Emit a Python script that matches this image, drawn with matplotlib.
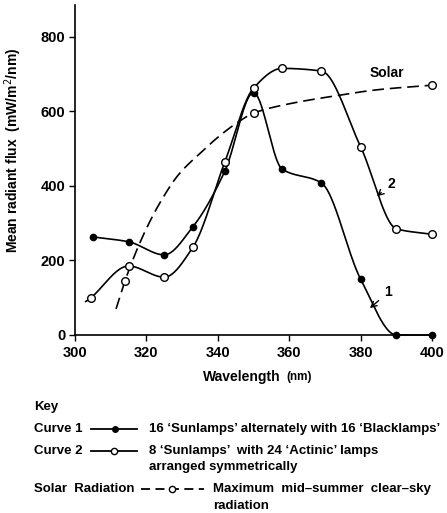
import numpy as np
import matplotlib
matplotlib.use("Agg")
import matplotlib.pyplot as plt
from matplotlib.lines import Line2D

plt.rcParams['font.family'] = ['Liberation Sans', 'DejaVu Sans']

# ---- data ----
curve1_wl = [305, 315, 325, 333, 342, 350, 358, 369, 380, 390, 400]
curve1_val = [263, 250, 215, 290, 440, 650, 445, 408, 150, 0, 0]

curve2_wl = [304.5, 315, 325, 333, 342, 350, 358, 369, 380, 390, 400]
curve2_val = [100, 185, 155, 235, 465, 662, 715, 708, 505, 285, 270]
curve2_line_start = 303

solar_wl = [311.5, 314, 319, 324, 329, 335, 341, 346, 350, 360, 372, 385, 400]
solar_val = [70, 145, 265, 358, 430, 487, 538, 573, 595, 620, 640, 658, 670]
solar_marked = [314, 350, 400]

x_ticks = [300, 320, 340, 360, 380, 400]
y_ticks = [0, 200, 400, 600, 800]


def pchip(x, y, xs):
    x = np.asarray(x, float); y = np.asarray(y, float)
    h = np.diff(x); d = np.diff(y) / h
    n = len(x); m = np.zeros(n)
    for k in range(1, n - 1):
        if d[k - 1] * d[k] > 0:
            w1 = 2 * h[k] + h[k - 1]; w2 = h[k] + 2 * h[k - 1]
            m[k] = (w1 + w2) / (w1 / d[k - 1] + w2 / d[k])
    m[0] = d[0]; m[-1] = d[-1]
    out = np.empty_like(xs)
    for i, xv in enumerate(xs):
        k = min(max(np.searchsorted(x, xv) - 1, 0), n - 2)
        t = (xv - x[k]) / h[k]
        h00 = 2*t**3 - 3*t**2 + 1; h10 = t**3 - 2*t**2 + t
        h01 = -2*t**3 + 3*t**2; h11 = t**3 - t**2
        out[i] = h00*y[k] + h10*h[k]*m[k] + h01*y[k+1] + h11*h[k]*m[k+1]
    return out


W, H = 447, 513
fig = plt.figure(figsize=(W/100, H/100), dpi=100)
ax = fig.add_axes([75/W, 1 - 335/H, (432 - 75)/W, (335 - 5)/H])
ax.set_xlim(300, 400)
ax.set_ylim(0, 885)

lw = 1.2
# curve 1
xs = np.linspace(curve1_wl[0], curve1_wl[-1], 400)
ax.plot(xs, pchip(curve1_wl, curve1_val, xs), color='black', lw=lw, clip_on=False)
ax.plot(curve1_wl, curve1_val, 'o', color='black', ms=4.5, clip_on=False, zorder=5)
# curve 2
xs = np.linspace(curve2_line_start, curve2_wl[-1], 400)
ax.plot(xs, pchip(curve2_wl, curve2_val, xs), color='black', lw=lw, clip_on=False)
ax.plot(curve2_wl, curve2_val, 'o', mfc='white', mec='black', mew=1.0, ms=5.5, clip_on=False, zorder=5)
# solar
xs = np.linspace(solar_wl[0], solar_wl[-1], 400)
ax.plot(xs, pchip(solar_wl, solar_val, xs), color='black', lw=lw, ls=(0, (7, 3.5)), clip_on=False)
sm_val = [solar_val[solar_wl.index(w)] for w in solar_marked]
ax.plot(solar_marked, sm_val, 'o', mfc='white', mec='black', mew=1.0, ms=5.5, clip_on=False, zorder=5)

# annotations
ax.text(387.3, 703, 'Solar', fontsize=10, fontweight='bold', ha='center', va='center')
ax.annotate('2', xy=(384.6, 372), xytext=(388.5, 405), fontsize=10, fontweight='bold',
            ha='center', va='center',
            arrowprops=dict(arrowstyle='->', lw=1.0, color='black', shrinkA=3, shrinkB=0))
ax.annotate('1', xy=(382.6, 72), xytext=(387.8, 115), fontsize=10, fontweight='bold',
            ha='center', va='center',
            arrowprops=dict(arrowstyle='->', lw=1.0, color='black', shrinkA=3, shrinkB=0))

for s in ['top', 'right']:
    ax.spines[s].set_visible(False)
ax.spines['left'].set_linewidth(1.2)
ax.spines['bottom'].set_linewidth(1.2)
ax.set_xticks(x_ticks)
ax.set_yticks(y_ticks)
ax.tick_params(axis='both', direction='out', length=4, width=1.0, labelsize=10.5, pad=3)
for lab in ax.get_xticklabels() + ax.get_yticklabels():
    lab.set_fontweight('bold')
ax.xaxis.set_tick_params(pad=4)

# axis labels
fig.text(13/W, 1 - 150/H, 'Mean radiant flux  (mW/m$^2$/nm)', rotation=90,
         ha='center', va='center', fontsize=10, fontweight='bold')
fig.text(242/W, 1 - 377/H, 'Wavelength', ha='center', va='center', fontsize=10, fontweight='bold')
fig.text(299/W, 1 - 377/H, '(nm)', ha='center', va='center', fontsize=8.5, fontweight='bold')

# key
fk = dict(fontsize=9.5, fontweight='bold', va='center', ha='left')
def fx(x): return x / W
def fy(y): return 1 - y / H

fig.text(fx(34), fy(407), 'Key', **fk)
fig.text(fx(34), fy(429), 'Curve 1', **fk)
fig.text(fx(149), fy(429), '16 ‘Sunlamps’ alternately with 16 ‘Blacklamps’', **fk)
fig.text(fx(34), fy(451), 'Curve 2', **fk)
fig.text(fx(149), fy(451), '8 ‘Sunlamps’  with 24 ‘Actinic’ lamps', **fk)
fig.text(fx(149), fy(467), 'arranged symmetrically', **fk)
fig.text(fx(34), fy(489), 'Solar  Radiation', **fk)
fig.text(fx(213), fy(489), 'Maximum  mid–summer  clear–sky', **fk)
fig.text(fx(213), fy(506), 'radiation', **fk)

# key glyphs
fig.add_artist(Line2D([fx(91), fx(137)], [fy(429), fy(429)], color='black', lw=1.3))
fig.add_artist(Line2D([fx(115)], [fy(429)], marker='o', color='black', ms=4, lw=0))
fig.add_artist(Line2D([fx(91), fx(137)], [fy(451), fy(451)], color='black', lw=1.3))
fig.add_artist(Line2D([fx(114)], [fy(451)], marker='o', mfc='white', mec='black', ms=4.5, lw=0, zorder=5))
fig.add_artist(Line2D([fx(141), fx(204)], [fy(489), fy(489)], color='black', lw=1.3, ls=(0, (5, 3))))
fig.add_artist(Line2D([fx(172)], [fy(489)], marker='o', mfc='white', mec='black', ms=4.5, lw=0, zorder=5))

fig.savefig('out.png', dpi=100)
